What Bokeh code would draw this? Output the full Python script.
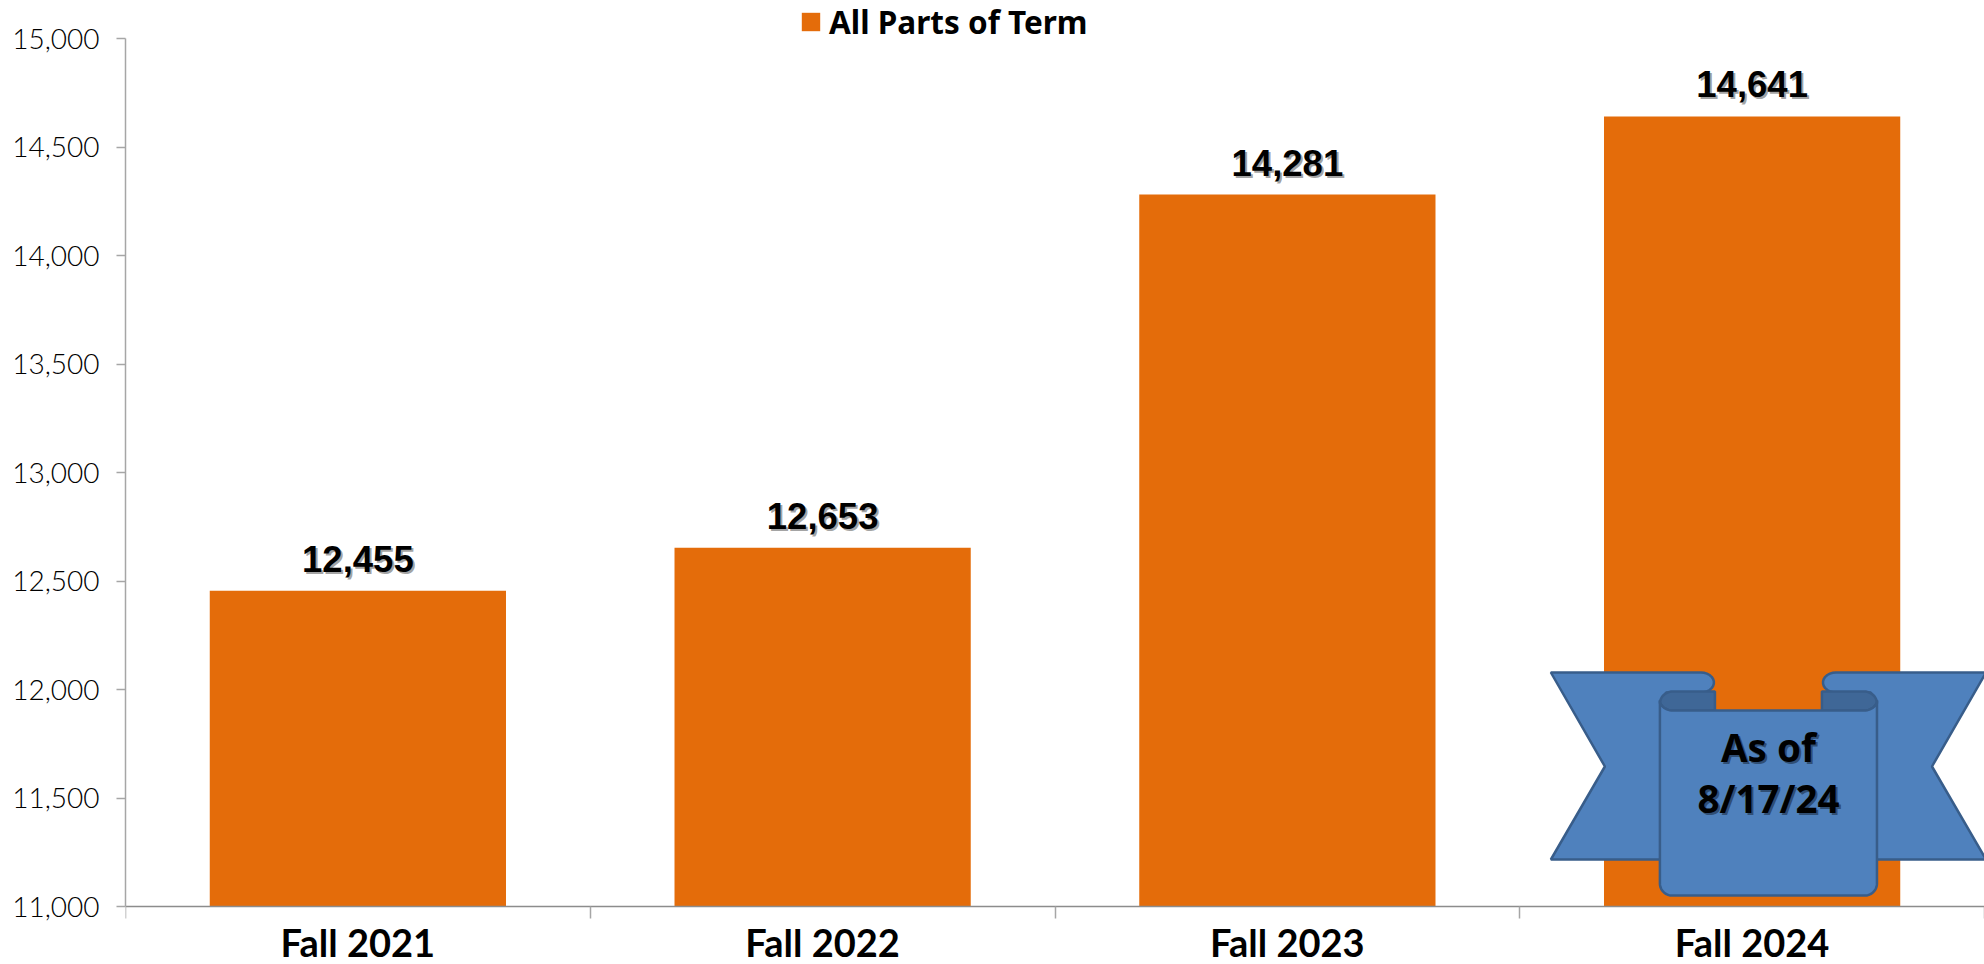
import numpy as np
from bokeh.core.properties import value
from bokeh.embed import file_html
from bokeh.models import ColumnDataSource, FixedTicker, Legend, LegendItem, LinearAxis, Range1d
from bokeh.plotting import figure
from bokeh.resources import INLINE

categories = ["Fall 2021", "Fall 2022", "Fall 2023", "Fall 2024"]
enrollment = [12455, 12653, 14281, 14641]
labels = ["12,455", "12,653", "14,281", "14,641"]
y_ticks = [11000, 11500, 12000, 12500, 13000, 13500, 14000, 14500, 15000]
y_tick_labels = ["11,000", "11,500", "12,000", "12,500", "13,000", "13,500", "14,000", "14,500", "15,000"]
legend_label = "All Parts of Term"
ribbon_lines = ["As of", "8/17/24"]

ORANGE = "#e46c0a"
LEFT, RIGHT, TOP, BOTTOM = 125.0, 1983.5, 38.0, 906.0
W, H = 1984, 964
Y_PER_PX = 4000 / (BOTTOM - TOP)


def dx(px):
    return (np.asarray(px, dtype=float) - LEFT) / (RIGHT - LEFT) * 4


def dy(py):
    return 15000 - (np.asarray(py, dtype=float) - TOP) * Y_PER_PX


def arc(cx, cy, rx, ry, a0, a1, n=14):
    t = np.radians(np.linspace(a0, a1, n))
    return list(zip(cx + rx * np.cos(t), cy + ry * np.sin(t)))


p = figure(width=W, height=H, output_backend="svg", toolbar_location=None,
           x_range=Range1d(0, 4), y_range=Range1d(float(dy(H)), 15000 + TOP * Y_PER_PX),
           x_axis_type=None, y_axis_type=None,
           min_border_left=int(LEFT), min_border_right=0,
           min_border_top=0, min_border_bottom=0,
           background_fill_color="white", border_fill_color="white", outline_line_color=None)
p.grid.visible = False

centers = [i + 0.5 for i in range(len(categories))]
src = ColumnDataSource(dict(x=centers, top=enrollment, label=labels))
bars = p.vbar(x="x", top="top", bottom=11000, width=296 / 464.375, source=src,
              fill_color=ORANGE, line_color=None)

# y axis
yax = LinearAxis(ticker=FixedTicker(ticks=y_ticks), bounds=(11000, 15000),
                 major_label_overrides=dict(zip(y_ticks, y_tick_labels)),
                 axis_line_color="#a6a6a6", axis_line_width=1.5,
                 major_tick_line_color="#a6a6a6", major_tick_line_width=1.5,
                 major_tick_in=0, major_tick_out=9, minor_tick_line_color=None,
                 major_label_standoff=17, major_label_text_font="Lato Light",
                 major_label_text_font_size="28px", major_label_text_color="#000000")
p.add_layout(yax, "left")

# x axis: category names at the bar centres, tick marks on the category borders
xax = LinearAxis(ticker=FixedTicker(ticks=centers, minor_ticks=list(range(len(categories) + 1))),
                 major_label_overrides=dict(zip(centers, categories)), fixed_location=11000,
                 axis_line_color="#8c8c8c", axis_line_width=1.5,
                 major_tick_line_color=None, major_tick_in=0, major_tick_out=0,
                 minor_tick_line_color="#a6a6a6", minor_tick_line_width=1.5,
                 minor_tick_in=0, minor_tick_out=12,
                 major_label_standoff=0, major_label_text_font="Lato",
                 major_label_text_font_style="bold", major_label_text_font_size="38px",
                 major_label_text_color="black")
p.add_layout(xax, "below")

# value labels with soft shadow
label_font = value("Liberation Sans")
p.text(x="x", y="top", text="label", source=src, x_offset=2, y_offset=-17, text_align="center",
       text_baseline="bottom", text_font=label_font, text_font_style="bold", text_font_size="36.5px",
       text_color="#555555", text_alpha=0.55)
p.text(x="x", y="top", text="label", source=src, x_offset=0, y_offset=-19, text_align="center",
       text_baseline="bottom", text_font=label_font, text_font_style="bold", text_font_size="36.5px",
       text_color="black")

# ribbon shape (drawn in px of the reference, converted to data space)
FILL, EDGE, FOLD = "#4f81bd", "#385d8a", "#3f6797"
CX = 1767.5


def mirror(pts):
    return [(2 * CX - x, y) for x, y in pts]


wing = [(1550, 672), (1700, 672)] + arc(1700, 682, 13, 10, -90, 90) + [(1665, 692), (1665, 859), (1550, 859), (1604, 766)]
fold = arc(1672, 703, 13, 12, 180, 270) + [(1714, 691), (1714, 710), (1672, 710)] + arc(1672, 700, 13, 10, 90, 180)
panel = (arc(1672, 700, 13, 10, 180, 90) + arc(1863, 700, 13, 10, 90, 0)
         + arc(1864, 883, 12, 12, 0, 90) + arc(1671, 883, 12, 12, 90, 180))

for pts, col in [(wing, FILL), (mirror(wing), FILL), (fold, FOLD), (mirror(fold), FOLD), (panel, FILL)]:
    xs, ys = zip(*pts)
    p.patch(dx(xs), dy(ys), fill_color=col, line_color=EDGE, line_width=2.5)

rib_font = value("Noto Sans")
rib_x = [float(dx(1767.5))] * 2
rib_y = [float(dy(746)), float(dy(797))]
p.text(x=rib_x, y=rib_y, text=ribbon_lines, x_offset=2, y_offset=2, text_align="center", text_baseline="alphabetic",
       text_font=rib_font, text_font_style="bold", text_font_size="38.5px", text_color="#1b2d44", text_alpha=0.6)
p.text(x=rib_x, y=rib_y, text=ribbon_lines, text_align="center", text_baseline="alphabetic",
       text_font=rib_font, text_font_style="bold", text_font_size="38.5px", text_color="black")

legend = Legend(items=[LegendItem(label=legend_label, renderers=[bars])],
                location=(674, 921), orientation="horizontal",
                background_fill_alpha=0, border_line_color=None, margin=0, padding=0,
                glyph_width=23, glyph_height=23, label_standoff=7, label_height=21,
                label_text_font="Noto Sans", label_text_font_style="bold",
                label_text_font_size="31.5px", label_text_color="black")
p.add_layout(legend, "center")

open("out.html", "w").write(file_html(p, INLINE))
